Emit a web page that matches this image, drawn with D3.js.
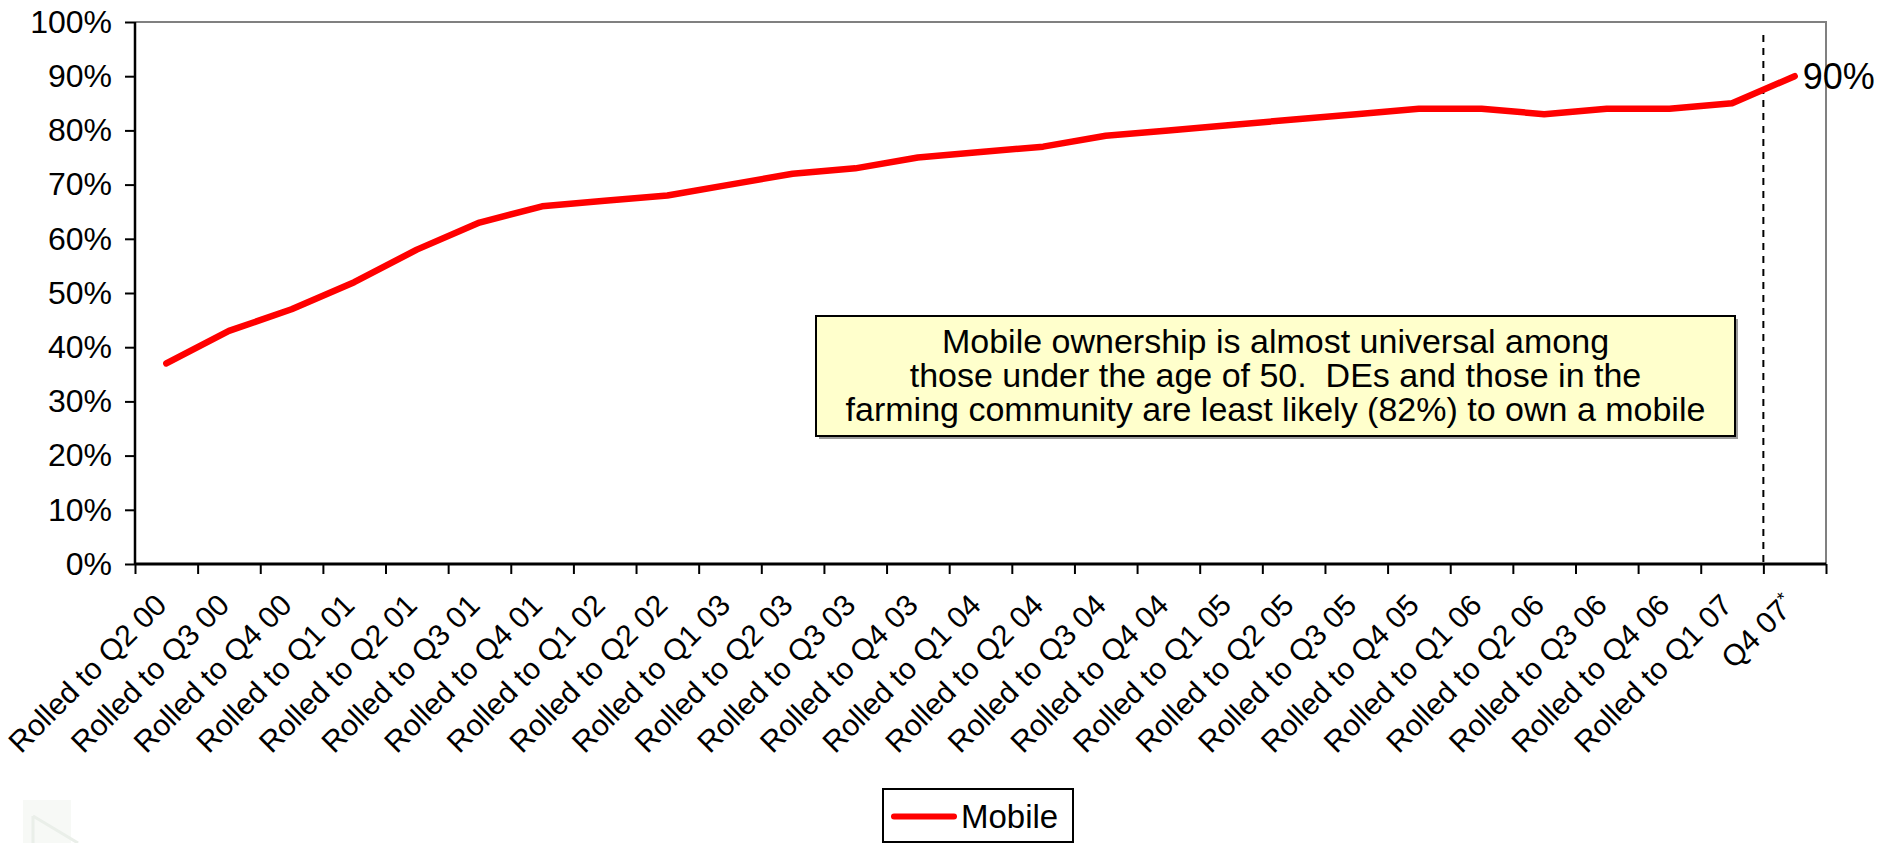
<!DOCTYPE html>
<html>
<head>
<meta charset="utf-8">
<script src="https://cdn.jsdelivr.net/npm/d3@7/dist/d3.min.js"></script>
<style>
  html, body { margin: 0; padding: 0; background: #fff; }
  svg { display: block; font-family: "Liberation Sans", Arial, sans-serif; }
  .note { white-space: pre; }
</style>
</head>
<body>
<svg id="chart" width="1898" height="843"></svg>
<script>
// Quarterly periods (rolling periods, final point is Q4 07 forecast)
const periods = [
  "Rolled to Q2 00", "Rolled to Q3 00", "Rolled to Q4 00",
  "Rolled to Q1 01", "Rolled to Q2 01", "Rolled to Q3 01", "Rolled to Q4 01",
  "Rolled to Q1 02", "Rolled to Q2 02",
  "Rolled to Q1 03", "Rolled to Q2 03", "Rolled to Q3 03", "Rolled to Q4 03",
  "Rolled to Q1 04", "Rolled to Q2 04", "Rolled to Q3 04", "Rolled to Q4 04",
  "Rolled to Q1 05", "Rolled to Q2 05", "Rolled to Q3 05", "Rolled to Q4 05",
  "Rolled to Q1 06", "Rolled to Q2 06", "Rolled to Q3 06", "Rolled to Q4 06",
  "Rolled to Q1 07", "Q4 07"
];
// Mobile ownership share per period
const mobile = [
  0.37, 0.43, 0.47, 0.52, 0.58, 0.63, 0.66, 0.67, 0.68, 0.70, 0.72, 0.73, 0.75,
  0.76, 0.77, 0.79, 0.80, 0.81, 0.82, 0.83, 0.84, 0.84, 0.83, 0.84, 0.84, 0.85, 0.90
];
const yTicks = [0, 0.1, 0.2, 0.3, 0.4, 0.5, 0.6, 0.7, 0.8, 0.9, 1.0];
const seriesName = "Mobile";
const noteLines = [
  "Mobile ownership is almost universal among",
  "those under the age of 50.  DEs and those in the",
  "farming community are least likely (82%) to own a mobile"
];
const forecastMarkerIndex = 26;   // boundary before the forecast period

const svg = d3.select("#chart");
const plot = { left: 135, right: 1826, top: 22, bottom: 564 };

const x = d3.scaleBand().domain(periods).range([plot.left, plot.right]).padding(0);
const xEdge = d3.scaleLinear().domain([0, periods.length]).range([plot.left, plot.right]);
const y = d3.scaleLinear().domain([0, 1]).range([plot.bottom, plot.top]);
const cx = d => x(d) + x.bandwidth() / 2;

// faint logo remnant, bottom-left corner
const logo = svg.append("g").attr("opacity", 0.55);
logo.append("rect").attr("x", 23).attr("y", 800).attr("width", 48).attr("height", 43).attr("fill", "#f1f5f0");
logo.append("path").attr("d", "M33,816 L78,843 M33,816 L33,843")
  .attr("stroke", "#d9e2d8").attr("stroke-width", 3).attr("fill", "none");

// plot frame: grey top and right edges
svg.append("path")
  .attr("d", `M${plot.left},${plot.top}H${plot.right}V${plot.bottom}`)
  .attr("fill", "none").attr("stroke", "#808080").attr("stroke-width", 2);

// y axis
const yAxis = svg.append("g")
  .attr("transform", `translate(${plot.left},0)`)
  .call(d3.axisLeft(y).tickValues(yTicks).tickFormat(d3.format(".0%")).tickSize(10).tickPadding(13));
yAxis.select(".domain").attr("stroke", "#000").attr("stroke-width", 2.5).attr("d", `M0,${plot.top}V${plot.bottom}`);
yAxis.selectAll(".tick line").attr("stroke", "#000").attr("stroke-width", 2);
yAxis.selectAll(".tick text")
  .attr("font-size", 32).attr("fill", "#000")
  .attr("font-family", "'Liberation Sans', Arial, sans-serif");

// x axis: ticks on period boundaries
const xAxis = svg.append("g")
  .attr("transform", `translate(0,${plot.bottom})`)
  .call(d3.axisBottom(xEdge).tickValues(d3.range(periods.length + 1)).tickFormat("").tickSize(10));
xAxis.select(".domain").attr("stroke", "#000").attr("stroke-width", 3).attr("d", `M${plot.left},0H${plot.right}`);
xAxis.selectAll(".tick line").attr("stroke", "#000").attr("stroke-width", 2);

// rotated period labels
const labels = svg.append("g").attr("font-size", 30).attr("fill", "#000");
periods.forEach((p, i) => {
  const t = labels.append("text")
    .attr("text-anchor", "end")
    .attr("transform", `translate(${cx(p) + 2},${plot.bottom + 43}) rotate(-45)`)
    .text(p);
  if (i === periods.length - 1) {
    t.append("tspan").attr("font-size", 19).attr("dy", -10).text("*");
  }
});

// forecast divider
svg.append("line")
  .attr("x1", xEdge(forecastMarkerIndex)).attr("x2", xEdge(forecastMarkerIndex))
  .attr("y1", 35).attr("y2", plot.bottom)
  .attr("stroke", "#000").attr("stroke-width", 2).attr("stroke-dasharray", "7,6");

// annotation box with drop shadow
const note = { x: 816, y: 316, w: 919, h: 120 };
svg.append("rect").attr("x", note.x + 3).attr("y", note.y + 3).attr("width", note.w).attr("height", note.h)
  .attr("fill", "#9a9a9a");
svg.append("rect").attr("x", note.x).attr("y", note.y).attr("width", note.w).attr("height", note.h)
  .attr("fill", "#ffffcc").attr("stroke", "#000").attr("stroke-width", 2);
const noteText = svg.append("text").attr("class", "note")
  .attr("font-size", 34).attr("text-anchor", "middle").attr("fill", "#000");
noteLines.forEach((line, i) => {
  noteText.append("tspan").attr("x", note.x + note.w / 2).attr("y", 353 + i * 34).text(line);
});

// series line
const line = d3.line().x((d, i) => cx(periods[i])).y(d => y(d));
svg.append("path").datum(mobile)
  .attr("d", line)
  .attr("fill", "none").attr("stroke", "#ff0000").attr("stroke-width", 6.5)
  .attr("stroke-linejoin", "round").attr("stroke-linecap", "round");

// end value label
const last = mobile.length - 1;
svg.append("text")
  .attr("x", cx(periods[last]) + 8).attr("y", y(mobile[last]) + 13)
  .attr("font-size", 36).attr("fill", "#000")
  .text(d3.format(".0%")(mobile[last]));

// legend
const lg = svg.append("g");
lg.append("rect").attr("x", 883).attr("y", 789).attr("width", 190).attr("height", 53)
  .attr("fill", "#fff").attr("stroke", "#000").attr("stroke-width", 2);
lg.append("line").attr("x1", 894).attr("x2", 954).attr("y1", 816.5).attr("y2", 816.5)
  .attr("stroke", "#ff0000").attr("stroke-width", 6).attr("stroke-linecap", "round");
lg.append("text").attr("x", 961).attr("y", 828).attr("font-size", 33).attr("fill", "#000").text(seriesName);
</script>
</body>
</html>
